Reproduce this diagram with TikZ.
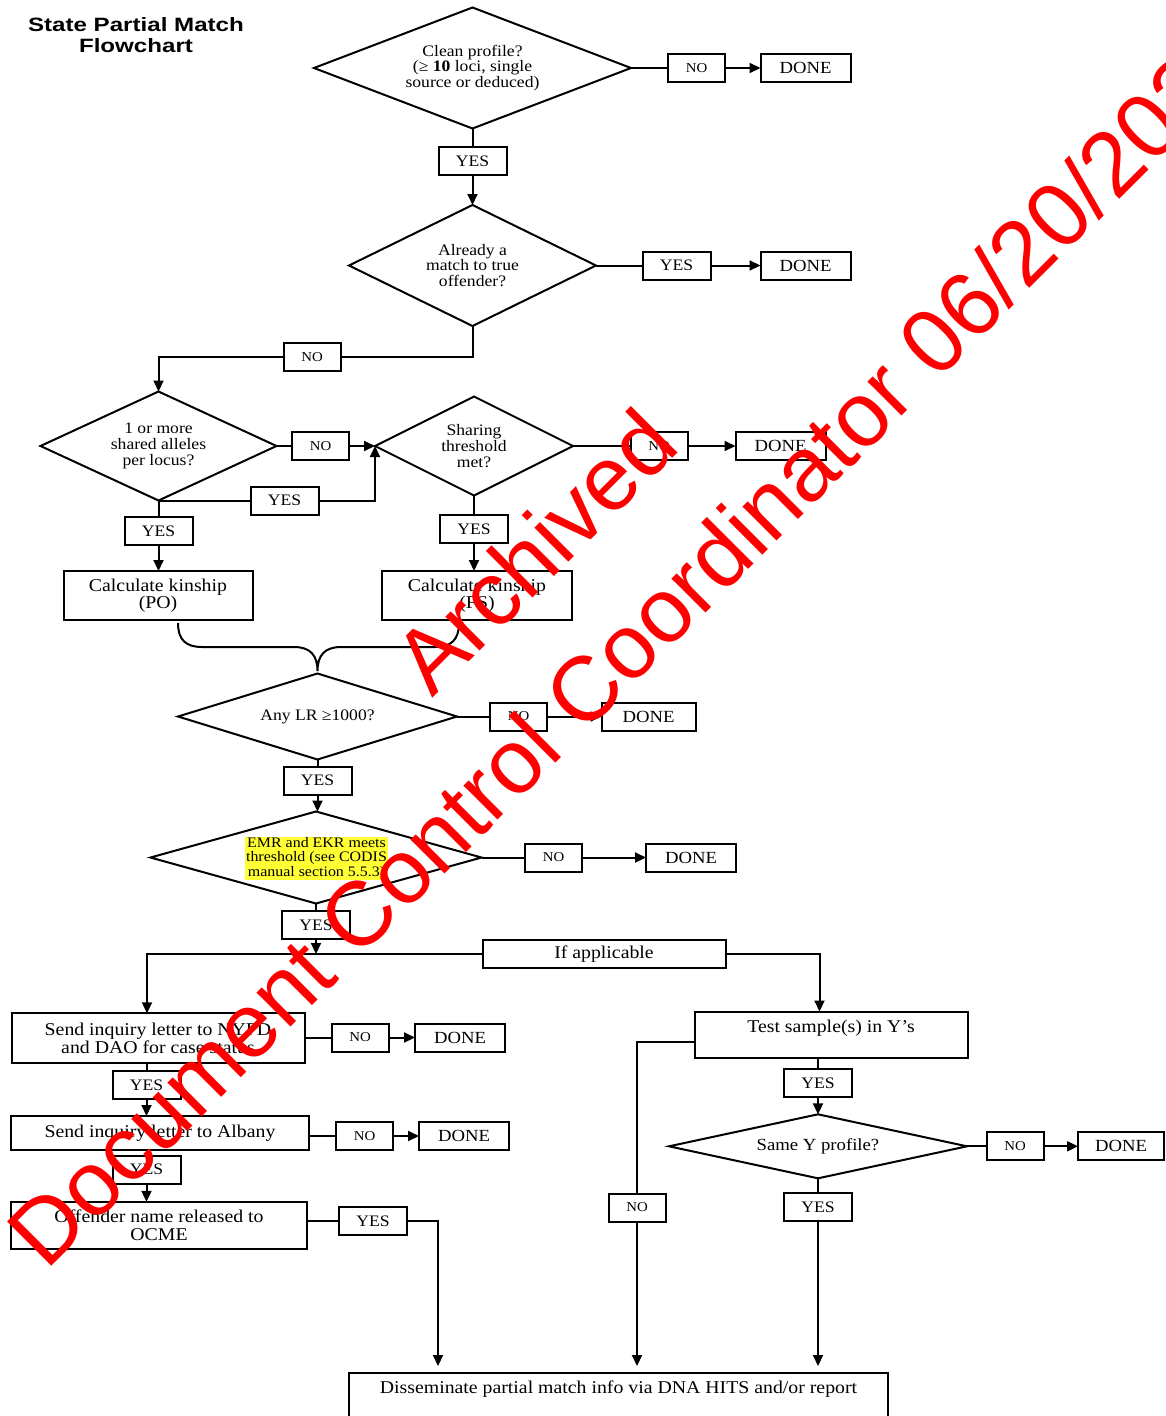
\documentclass[tikz,border=0pt]{standalone}
\usepackage{fontspec}
\setmainfont[FakeStretch=1.1]{Liberation Serif}
\newfontfamily\titlefont[FakeStretch=1.25]{Liberation Sans}
\newfontfamily\wmfont{Liberation Sans}
\usetikzlibrary{shapes.geometric,arrows.meta}
\definecolor{hl}{RGB}{255,255,51}
\definecolor{wmred}{RGB}{255,0,0}
\begin{document}
\begin{tikzpicture}[x=1pt,y=-1pt,
  base/.style={draw, line width=2pt, inner sep=0pt, outer sep=0pt, align=center},
  lbl/.style={base, minimum width=68pt, minimum height=28pt, font=\fontsize{16}{17}\selectfont},
  nolbl/.style={base, minimum width=57pt, minimum height=28pt, font=\fontsize{13.5}{15}\selectfont},
  donebox/.style={base, minimum width=90pt, minimum height=28pt, font=\fontsize{17}{18}\selectfont},
  box/.style={base, font=\fontsize{18}{17.4}\selectfont},
  dia/.style={base, diamond, font=\fontsize{16}{15.6}\selectfont},
  emr/.style={fill=hl, inner xsep=1pt, inner ysep=0.5pt, align=center, font=\fontsize{14.5}{14.3}\selectfont},
  conn/.style={line width=2pt},
  arr/.style={conn, -{Triangle[length=11pt,width=10pt]}},
  wm/.style={text=wmred, inner sep=0pt, font=\wmfont\fontsize{91}{91}\selectfont}
]
\useasboundingbox (0,0) rectangle (1166,1416);
\fill[white] (0,0) rectangle (1166,1416);

% title
\node[align=center, font={\titlefont\bfseries\fontsize{19.3}{21}\selectfont}] (title) at (136,35.5) {State Partial Match\\Flowchart};

% nodes
\node[dia, aspect=2.62, minimum width=317pt, minimum height=121pt] (d1) at (472.5,68) {Clean profile?\\(≥ \textbf{10} loci, single\\source or deduced)};
\node[nolbl] (no1) at (696.5,68) {NO};
\node[donebox] (done1) at (805.5,68) {DONE};
\node[lbl] (yes1) at (472.5,161) {YES};

\node[dia, aspect=2.04, minimum width=247pt, minimum height=121pt] (d2) at (472.5,265.5) {Already a\\match to true\\offender?};
\node[lbl] (yes2) at (676.5,265.5) {YES};
\node[donebox] (done2) at (805.5,265.5) {DONE};
\node[nolbl] (no2) at (312,357) {NO};

\node[dia, aspect=2.165, minimum width=236pt, minimum height=109pt] (d3) at (158.5,446) {1 or more\\shared alleles\\per locus?};
\node[nolbl] (no3) at (320.5,446) {NO};
\node[lbl] (yes3h) at (284.5,500.5) {YES};
\node[lbl] (yes3v) at (158.5,531) {YES};
\node[box, minimum width=189pt, minimum height=49pt] (po) at (158,595.5) {Calculate kinship\\(PO)};

\node[dia, aspect=2, minimum width=198pt, minimum height=99pt] (d4) at (474,446) {Sharing\\threshold\\met?};
\node[nolbl] (no4) at (659,446) {NO};
\node[donebox] (done4) at (780.5,446) {DONE};
\node[lbl] (yes4) at (474,529) {YES};
\node[box, minimum width=190pt, minimum height=49pt] (fs) at (477,595.5) {Calculate kinship\\(FS)};

\node[dia, aspect=3.25, minimum width=279pt, minimum height=86pt] (d5) at (317.5,716.5) {\raisebox{-4pt}{Any LR ≥1000?}};
\node[nolbl] (no5) at (518.5,716.5) {NO};
\node[donebox, minimum width=94pt] (done5) at (648.5,716.5) {DONE};
\node[lbl] (yes5) at (317.5,780.5) {YES};

\node[dia, aspect=3.6, minimum width=331pt, minimum height=92pt] (d6) at (316,857.5) {};
\node[emr] (d6t) at (316.5,858.5) {EMR and EKR meets\\threshold (see CODIS\\manual section 5.5.3)};
\node[nolbl] (no6) at (553.5,857.5) {NO};
\node[donebox] (done6) at (691,857.5) {DONE};
\node[lbl] (yes6) at (316,925) {YES};

\node[box, minimum width=243pt, minimum height=28pt] (ifapp) at (604,954) {If applicable};

\node[box, minimum width=293pt, minimum height=50pt] (nypd) at (158,1038.3) {Send inquiry letter to NYPD\\and DAO for case status};
\node[nolbl] (no7) at (360,1037.5) {NO};
\node[donebox] (done7) at (460,1037.5) {DONE};
\node[lbl] (yes7) at (146.5,1085) {YES};
\node[box, minimum width=298pt, minimum height=34pt] (alb) at (160,1133) {Send inquiry letter to Albany};
\node[nolbl] (no8) at (364.5,1136) {NO};
\node[donebox] (done8) at (464,1136) {DONE};
\node[lbl] (yes8) at (146.5,1169.5) {YES};
\node[box, minimum width=296pt, minimum height=47pt] (off) at (159,1225.3) {Offender name released to\\OCME};
\node[lbl] (yes9) at (373,1221) {YES};

\node[box, minimum width=273pt, minimum height=46pt] (ys) at (831,1034.5) {Test sample(s) in Y’s\\\mbox{}};
\node[nolbl] (no10) at (637,1207.5) {NO};
\node[lbl] (yes10) at (818,1083.3) {YES};
\node[dia, aspect=4.66, minimum width=298pt, minimum height=64pt, font=\fontsize{17}{17}\selectfont] (d7) at (818,1146.3) {Same Y profile?};
\node[nolbl] (no11) at (1015,1146.3) {NO};
\node[donebox, minimum width=86pt] (done11) at (1121,1146.3) {DONE};
\node[lbl] (yes11) at (818,1207) {YES};

\node[base, anchor=north, minimum width=539pt, minimum height=70pt] (diss) at (618.5,1373) {};
\node[font=\fontsize{18}{17.4}\selectfont] (disst) at (618.5,1389) {Disseminate partial match info via DNA HITS and/or report};

% connectors
\draw[conn] (d1.east) -- (no1.west);
\draw[arr] (no1.east) -- (done1.west);
\draw[conn] (d1.south) -- (yes1.north);
\draw[arr] (yes1.south) -- (d2.north);
\draw[conn] (d2.east) -- (yes2.west);
\draw[arr] (yes2.east) -- (done2.west);
\draw[conn] (d2.south) |- (no2.east);
\draw[arr] (no2.west) -| (d3.north);
\draw[conn] (d3.east) -- (no3.west);
\draw[arr] (no3.east) -- (d4.west);
\draw[conn] (d3.south) -- (yes3h.west);
\draw[arr] (yes3h.east) -| (d4.west);
\draw[conn] (d3.south) -- (yes3v.north);
\draw[arr] (yes3v.south) -- (yes3v.south |- po.north);
\draw[conn] (d4.east) -- (no4.west);
\draw[arr] (no4.east) -- (done4.west);
\draw[conn] (d4.south) -- (yes4.north);
\draw[arr] (yes4.south) -- (yes4.south |- fs.north);

% brace
\coordinate (brL) at (178,623);
\coordinate (brR) at (459,623);
\coordinate (brT) at (317.5,671);
\draw[conn] (brL) .. controls (178,640) and (186,647) .. (202,647) -- (294,647)
  .. controls (310,647) and (317.5,655) .. (brT)
  .. controls (317.5,655) and (325,647) .. (341,647) -- (435,647)
  .. controls (451,647) and (459,640) .. (brR);

\draw[conn] (d5.east) -- (no5.west);
\draw[arr] (no5.east) -- (done5.west);
\draw[conn] (d5.south) -- (yes5.north);
\draw[arr] (yes5.south) -- (yes5.south |- d6.north);
\draw[conn] (d6.east) -- (no6.west);
\draw[arr] (no6.east) -- (done6.west);
\draw[conn] (d6.south) -- (yes6.north);
\draw[arr] (yes6.south) -- (yes6.south |- ifapp.west);

\coordinate (lc) at (147,954);
\coordinate (rc) at (819.5,954);
\draw[arr] (ifapp.west) -- (lc) -- (lc |- nypd.north);
\draw[arr] (ifapp.east) -- (rc) -- (rc |- ys.north);

\draw[conn] (nypd.east |- no7.west) -- (no7.west);
\draw[arr] (no7.east) -- (done7.west);
\draw[conn] (yes7.north |- nypd.south) -- (yes7.north);
\draw[arr] (yes7.south) -- (yes7.south |- alb.north);
\draw[conn] (alb.east |- no8.west) -- (no8.west);
\draw[arr] (no8.east) -- (done8.west);
\draw[conn] (yes8.north |- alb.south) -- (yes8.north);
\draw[arr] (yes8.south) -- (yes8.south |- off.north);
\draw[conn] (off.east |- yes9.west) -- (yes9.west);
\coordinate (ca) at (438,1221);
\draw[arr, shorten >=7pt] (yes9.east) -- (ca) -- (ca |- diss.north);

\coordinate (cn) at (637,1041.7);
\draw[conn] (ys.west |- cn) -- (cn) -- (no10.north);
\draw[arr, shorten >=7pt] (no10.south) -- (no10.south |- diss.north);
\draw[conn] (yes10.north |- ys.south) -- (yes10.north);
\draw[arr] (yes10.south) -- (d7.north);
\draw[conn] (d7.east) -- (no11.west);
\draw[arr] (no11.east) -- (done11.west);
\draw[conn] (d7.south) -- (yes11.north);
\draw[arr, shorten >=7pt] (yes11.south) -- (yes11.south |- diss.north);

% watermark
\node[wm, anchor=base west, rotate=45] (wmA) at (432,699) {Archived};
\node[wm, anchor=base west, rotate=45] (wmB) at (46.8,1271.6) {Document Control Coordinator 06/20/2022};
\end{tikzpicture}
\end{document}
